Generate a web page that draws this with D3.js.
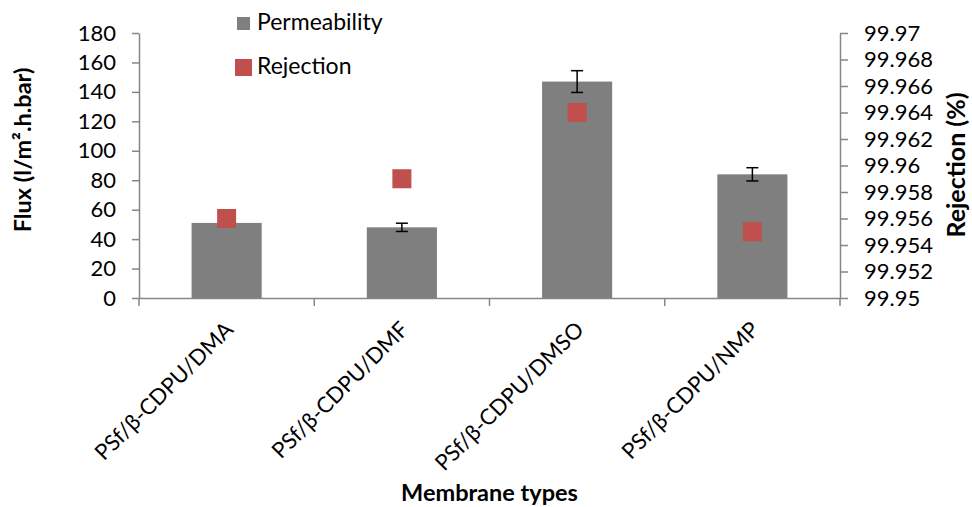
<!DOCTYPE html>
<html>
<head>
<meta charset="utf-8">
<script src="https://cdn.jsdelivr.net/npm/d3@7"></script>
<style>
  body { margin: 0; background: #fff; }
  text { font-family: Lato, "Open Sans", sans-serif; fill: #000; }
</style>
</head>
<body>
<script>
var categories = ["PSf/β-CDPU/DMA", "PSf/β-CDPU/DMF", "PSf/β-CDPU/DMSO", "PSf/β-CDPU/NMP"];
var permeability = [51, 48, 147, 84];
var permError = [2, 2.8, 7.4, 4.5];
var rejection = [99.956, 99.959, 99.964, 99.955];
var fluxTicks = [0, 20, 40, 60, 80, 100, 120, 140, 160, 180];
var rejTicks = [99.95, 99.952, 99.954, 99.956, 99.958, 99.96, 99.962, 99.964, 99.966, 99.968, 99.97];

var W = 972, H = 507;
var m = { left: 139, right: 840, top: 33, bottom: 298 };

var svg = d3.select("body").append("svg")
  .attr("width", W).attr("height", H);

var x = d3.scaleBand().domain(categories).range([m.left, m.right]).padding(0);
var yL = d3.scaleLinear().domain([0, 180]).range([m.bottom, m.top]);
var yR = d3.scaleLinear().domain([99.95, 99.97]).range([m.bottom, m.top]);

var axisColor = "#868686";
var barW = x.bandwidth() * 0.4;
function cx(i) { return x(categories[i]) + x.bandwidth() / 2; }

// bars
svg.selectAll(".bar")
  .data(permeability)
  .enter().append("rect")
  .attr("class", "bar")
  .attr("x", function (d, i) { return cx(i) - barW / 2; })
  .attr("y", function (d) { return yL(d); })
  .attr("width", barW)
  .attr("height", function (d) { return yL(0) - yL(d); })
  .attr("fill", "#7f7f7f");

// error bars
var err = svg.selectAll(".err")
  .data(permeability)
  .enter().append("g")
  .attr("class", "err")
  .attr("stroke", "#000")
  .attr("stroke-width", 1.5);
err.append("line")
  .attr("x1", function (d, i) { return cx(i); })
  .attr("x2", function (d, i) { return cx(i); })
  .attr("y1", function (d, i) { return yL(d + permError[i]); })
  .attr("y2", function (d, i) { return yL(d - permError[i]); });
[1, -1].forEach(function (s) {
  err.append("line")
    .attr("x1", function (d, i) { return cx(i) - 6; })
    .attr("x2", function (d, i) { return cx(i) + 6; })
    .attr("y1", function (d, i) { return yL(d + s * permError[i]); })
    .attr("y2", function (d, i) { return yL(d + s * permError[i]); });
});

// rejection markers
var mk = 19;
svg.selectAll(".rej")
  .data(rejection)
  .enter().append("rect")
  .attr("class", "rej")
  .attr("x", function (d, i) { return cx(i) - mk / 2; })
  .attr("y", function (d) { return yR(d) - mk / 2; })
  .attr("width", mk).attr("height", mk)
  .attr("fill", "#c0504d");

// axes
var gL = svg.append("g")
  .attr("transform", "translate(" + m.left + ",0)")
  .call(d3.axisLeft(yL).tickValues(fluxTicks).tickSize(7).tickPadding(16).tickSizeOuter(0));
var gR = svg.append("g")
  .attr("transform", "translate(" + m.right + ",0)")
  .call(d3.axisRight(yR).tickValues(rejTicks).tickSize(8).tickPadding(16).tickSizeOuter(0)
    .tickFormat(function (d) { return String(+d.toFixed(3)); }));
var gX = svg.append("g")
  .attr("transform", "translate(0," + m.bottom + ")")
  .call(d3.axisBottom(x).tickValues([]).tickSizeOuter(0));
gX.selectAll(".xt")
  .data(d3.range(categories.length + 1))
  .enter().append("line")
  .attr("class", "xt")
  .attr("x1", function (i) { return m.left + i * x.step(); })
  .attr("x2", function (i) { return m.left + i * x.step(); })
  .attr("y1", 0).attr("y2", 8);

[gL, gR, gX].forEach(function (g) {
  g.selectAll("path, line").attr("stroke", axisColor).attr("stroke-width", 1.5);
  g.selectAll("text").style("font-family", "Lato").style("font-size", "22px").attr("fill", "#000");
});

// category labels
svg.selectAll(".cat")
  .data(categories)
  .enter().append("text")
  .attr("class", "cat")
  .attr("transform", function (d, i) {
    return "translate(" + (cx(i) + 8) + ",331) rotate(-45)";
  })
  .attr("text-anchor", "end")
  .style("font-size", "22px")
  .text(function (d) { return d; });

// axis titles
svg.append("text")
  .attr("transform", "translate(31,150) rotate(-90)")
  .attr("text-anchor", "middle")
  .style("font-size", "23.5px").style("font-weight", "bold")
  .text("Flux (l/m².h.bar)");
svg.append("text")
  .attr("transform", "translate(965,165) rotate(-90)")
  .attr("text-anchor", "middle")
  .style("font-size", "25px").style("font-weight", "bold")
  .text("Rejection (%)");
svg.append("text")
  .attr("x", (m.left + m.right) / 2).attr("y", 501)
  .attr("text-anchor", "middle")
  .style("font-size", "23.5px").style("font-weight", "bold")
  .text("Membrane types");

// legend
var legend = svg.append("g");
legend.append("rect").attr("x", 237).attr("y", 17).attr("width", 13).attr("height", 13).attr("fill", "#7f7f7f");
legend.append("text").attr("x", 257).attr("y", 30).style("font-size", "23px").text("Permeability");
legend.append("rect").attr("x", 235).attr("y", 59).attr("width", 17).attr("height", 17).attr("fill", "#c0504d");
legend.append("text").attr("x", 257).attr("y", 74).style("font-size", "23px").text("Rejection");
</script>
</body>
</html>
